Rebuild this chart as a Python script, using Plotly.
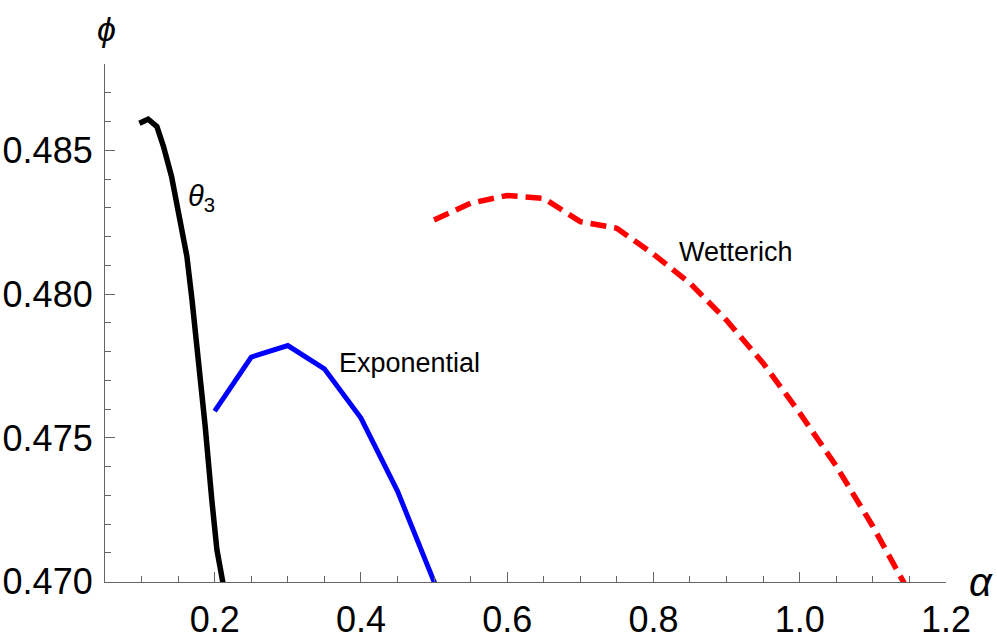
import plotly.graph_objects as go

# theta_3 curve
theta_alpha = [0.097, 0.109, 0.121, 0.130, 0.141, 0.153, 0.162, 0.169, 0.178, 0.187, 0.196, 0.203, 0.211, 0.2125]
theta_phi = [0.48594, 0.48608, 0.48582, 0.48513, 0.48409, 0.48258, 0.48131, 0.47980, 0.47772, 0.47541, 0.47286, 0.47112, 0.47000, 0.46980]

# Exponential curve
exp_alpha = [0.20, 0.25, 0.30, 0.35, 0.40, 0.45, 0.50, 0.505]
exp_phi = [0.47593, 0.47781, 0.47821, 0.47740, 0.47569, 0.47315, 0.47000, 0.46975]

# Wetterich curve
wet_alpha = [0.50, 0.55, 0.60, 0.65, 0.70, 0.75, 0.80, 0.85, 0.90, 0.95, 1.00, 1.05, 1.10, 1.15]
wet_phi = [0.48258, 0.48316, 0.48343, 0.48333, 0.48252, 0.48229, 0.48139, 0.48038, 0.47909, 0.47760, 0.47587, 0.47402, 0.47193, 0.46962]

x_tickvals = [0.2, 0.4, 0.6, 0.8, 1.0, 1.2]
x_ticktext = ["0.2", "0.4", "0.6", "0.8", "1.0", "1.2"]
y_tickvals = [0.470, 0.475, 0.480, 0.485]
y_ticktext = ["0.470", "0.475", "0.480", "0.485"]

FONT = "Liberation Sans, Arial, sans-serif"

fig = go.Figure()
fig.add_trace(go.Scatter(x=theta_alpha, y=theta_phi, mode="lines",
                         line=dict(color="#000000", width=5.5), showlegend=False))
fig.add_trace(go.Scatter(x=exp_alpha, y=exp_phi, mode="lines",
                         line=dict(color="#0000FF", width=5), showlegend=False))
fig.add_trace(go.Scatter(x=wet_alpha, y=wet_phi, mode="lines",
                         line=dict(color="#FF0000", width=5.5, dash="16px,8px"), showlegend=False))

axis_common = dict(showgrid=False, zeroline=False, showline=True, linecolor="#666666", linewidth=1.2,
                   ticks="inside", tickcolor="#666666", ticklen=10, tickwidth=1.2, automargin=False,
                   tickfont=dict(family=FONT, size=36, color="#000000"))

fig.update_xaxes(range=[0.05, 1.2001], tickmode="array", tickvals=x_tickvals, ticktext=x_ticktext,
                 minor=dict(dtick=0.05, tick0=0.0, ticks="inside", ticklen=6, tickcolor="#666666", tickwidth=1.2),
                 ticklabelstandoff=6, **axis_common)
fig.update_yaxes(range=[0.46999, 0.488], tickmode="array", tickvals=y_tickvals, ticktext=y_ticktext,
                 minor=dict(dtick=0.001, tick0=0.470, ticks="inside", ticklen=6, tickcolor="#666666", tickwidth=1.2),
                 ticklabelstandoff=4, **axis_common)

ann_font = dict(family=FONT, size=27, color="#000000")
fig.add_annotation(x=0.1813, y=0.48333, text="<i>θ</i><sub>3</sub>", showarrow=False,
                   font=dict(family=FONT, size=29, color="#000000"),
                   xanchor="center", yanchor="middle")
fig.add_annotation(x=0.4659, y=0.47760, text="Exponential", showarrow=False, font=ann_font,
                   xanchor="center", yanchor="middle")
fig.add_annotation(x=0.9132, y=0.48146, text="Wetterich", showarrow=False, font=ann_font,
                   xanchor="center", yanchor="middle")
fig.add_annotation(xref="paper", yref="paper", x=0.0018, y=1.0676, text="<i>ϕ</i>", showarrow=False,
                   font=dict(family=FONT, size=34, color="#000000"), xanchor="center", yanchor="middle")
fig.add_annotation(xref="paper", yref="paper", x=1.0416, y=0.0, text="<i>α</i>", showarrow=False,
                   font=dict(family=FONT, size=40, color="#000000"), xanchor="center", yanchor="middle")

fig.update_layout(width=997, height=640, margin=dict(l=105, r=51, t=64, b=58),
                  paper_bgcolor="white", plot_bgcolor="white")

fig.write_html("out.html", config={"displayModeBar": False},
               post_script="document.body.style.margin='0px';document.body.style.overflow='hidden';")
